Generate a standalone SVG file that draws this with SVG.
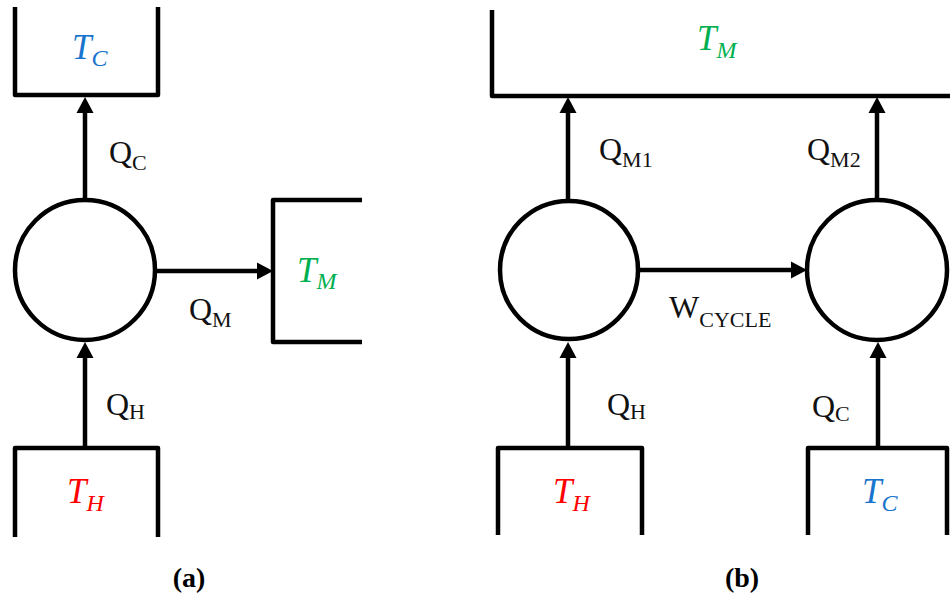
<svg xmlns="http://www.w3.org/2000/svg" width="950" height="598" viewBox="0 0 950 598">
<style>
.ln{fill:none;stroke:#000;stroke-width:4.5;stroke-linejoin:round}
.ar{fill:none;stroke:#000;stroke-width:4.5;marker-end:url(#ah)}
.eng{fill:#fff;stroke:#000;stroke-width:4.5}
.q{font-family:"Liberation Serif",serif;font-size:32px;fill:#111}
.qs{font-size:22px}
.t{font-family:"Liberation Serif",serif;font-style:italic;font-size:35px}
.ts{font-size:24px}
.red{fill:#ff0000}.blue{fill:#1874cd}.green{fill:#00b050}
.cap{font-family:"Liberation Serif",serif;font-weight:bold;font-size:28px;fill:#000;text-anchor:middle}
</style>
<defs>
<marker id="ah" markerUnits="userSpaceOnUse" markerWidth="16" markerHeight="18" viewBox="0 -9 16 18" refX="0" refY="0" orient="auto">
<path d="M0,-8.5 L16,0 L0,8.5 z" fill="#000"/>
</marker>
</defs>
<rect width="950" height="598" fill="#fff"/>
<g id="connectors">
<line class="ar" x1="85" y1="200" x2="85" y2="113"/>
<line class="ar" x1="155" y1="271" x2="257" y2="271"/>
<line class="ar" x1="85" y1="448" x2="85" y2="358"/>
<line class="ar" x1="568" y1="200" x2="568" y2="113"/>
<line class="ar" x1="877" y1="200" x2="877" y2="113"/>
<line class="ar" x1="638" y1="270" x2="791" y2="270"/>
<line class="ar" x1="568" y1="448" x2="568" y2="358"/>
<line class="ar" x1="878" y1="448" x2="878" y2="358"/>
</g>
<g id="a-TC">
<path class="ln" d="M15,7 V95 H158 V7"/>
<text class="t blue" x="72" y="59">T<tspan class="ts" dy="7">C</tspan></text>
</g>
<g id="a-engine"><circle class="eng" cx="85" cy="270" r="70"/></g>
<g id="a-TM">
<path class="ln" d="M362,200 H273 V342 H362"/>
<text class="t green" x="297" y="282">T<tspan class="ts" dy="7">M</tspan></text>
</g>
<g id="a-TH">
<path class="ln" d="M15,537 V448 H158 V537"/>
<text class="t red" x="67" y="503">T<tspan class="ts" dy="8">H</tspan></text>
</g>
<g id="a-labels">
<text class="q" x="109" y="163">Q<tspan class="qs" dy="7">C</tspan></text>
<text class="q" x="189" y="320">Q<tspan class="qs" dy="7">M</tspan></text>
<text class="q" x="106" y="415">Q<tspan class="qs" dy="4">H</tspan></text>
<text class="cap" x="189" y="587">(a)</text>
</g>
<g id="b-TM">
<path class="ln" d="M492,10 V96 H952"/>
<text class="t green" x="697" y="50">T<tspan class="ts" dy="8">M</tspan></text>
</g>
<g id="b-engine1"><circle class="eng" cx="569" cy="270" r="69"/></g>
<g id="b-engine2"><circle class="eng" cx="877" cy="270" r="70"/></g>
<g id="b-TH">
<path class="ln" d="M498,535 V448 H642 V535"/>
<text class="t red" x="553" y="503">T<tspan class="ts" dy="8">H</tspan></text>
</g>
<g id="b-TC">
<path class="ln" d="M808,535 V448 H947 V535"/>
<text class="t blue" x="862" y="503">T<tspan class="ts" dy="8">C</tspan></text>
</g>
<g id="b-labels">
<text class="q" x="599" y="160">Q<tspan class="qs" dy="7">M1</tspan></text>
<text class="q" x="807" y="160">Q<tspan class="qs" dy="7">M2</tspan></text>
<text class="q" x="669" y="318">W<tspan class="qs" dy="9">CYCLE</tspan></text>
<text class="q" x="607" y="415">Q<tspan class="qs" dy="4">H</tspan></text>
<text class="q" x="812" y="417">Q<tspan class="qs" dy="4">C</tspan></text>
<text class="cap" x="742" y="587">(b)</text>
</g>
</svg>
